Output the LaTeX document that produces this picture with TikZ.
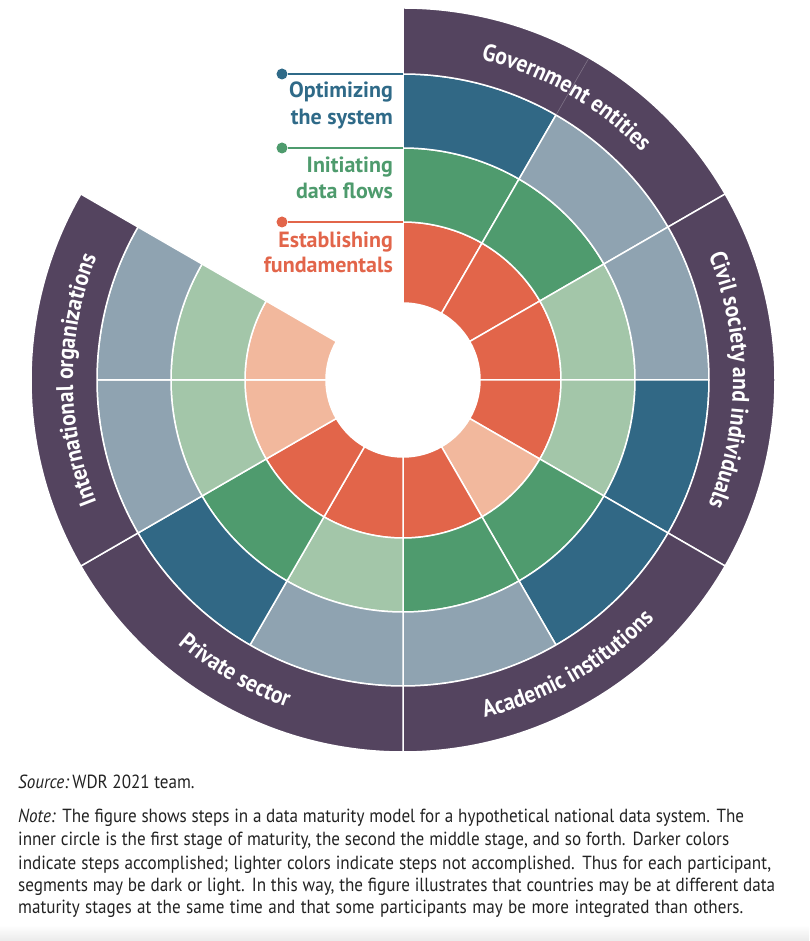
\documentclass[tikz,border=0pt]{standalone}
\usepackage{fontspec}
\setmainfont{PT Sans}
\newfontfamily\condfont{PT Sans}[FakeStretch=0.9]
\usetikzlibrary{decorations.text}
\definecolor{redD}{HTML}{E2654A}
\definecolor{redL}{HTML}{F2B89D}
\definecolor{grnD}{HTML}{4F9B6E}
\definecolor{grnL}{HTML}{A3C6A9}
\definecolor{bluD}{HTML}{316885}
\definecolor{bluL}{HTML}{8FA3B1}
\definecolor{purp}{HTML}{54445F}
\definecolor{legB}{HTML}{2F6A88}
\definecolor{legG}{HTML}{4E9B6D}
\definecolor{legR}{HTML}{E2654A}
\definecolor{notec}{HTML}{222222}
\newcommand\bandfnt{\condfont\bfseries\fontsize{24}{28}\selectfont}
\newcommand\nline[2]{\makebox[#1pt][s]{#2}}
\begin{document}
\begin{tikzpicture}[x=1pt,y=1pt,
  seg/.style={draw=white, line width=1.5pt},
  faint/.style={draw=purp!75!white, line width=0.6pt},
  legdot/.style={circle, inner sep=0pt, minimum size=11pt},
  legline/.style={line width=2pt},
  legtext/.style={font=\bfseries\fontsize{22}{26}\selectfont, anchor=base east, inner sep=0pt},
  notetext/.style={font=\condfont\fontsize{19}{22}\selectfont, anchor=base west, inner sep=0pt, text=notec},
  bandlabel/.style={decorate, decoration={text along path, text align=center, text color=white}}
]
\useasboundingbox (-403,-561) rectangle (406,380);
\shade[top color=white, bottom color=black!8] (-403,-545) rectangle (406,-561);

% rings
\foreach \a/\ca/\cb/\cc in {90/redD/grnD/bluD, 60/redD/grnD/bluL, 30/redD/grnL/bluL, 0/redD/grnL/bluD, -30/redL/grnD/bluD, -60/redD/grnD/bluL, -90/redD/grnL/bluL, -120/redD/grnD/bluD, -150/redL/grnL/bluL, -180/redL/grnL/bluL}{
  \pgfmathsetmacro\b{\a-30}
  \path[fill=\ca, seg] (\a:77pt) arc[start angle=\a, end angle=\b, radius=77pt] -- (\b:158pt) arc[start angle=\b, end angle=\a, radius=158pt] -- cycle;
  \path[fill=\cb, seg] (\a:158pt) arc[start angle=\a, end angle=\b, radius=158pt] -- (\b:232pt) arc[start angle=\b, end angle=\a, radius=232pt] -- cycle;
  \path[fill=\cc, seg] (\a:232pt) arc[start angle=\a, end angle=\b, radius=232pt] -- (\b:306pt) arc[start angle=\b, end angle=\a, radius=306pt] -- cycle;
}
% participant band
\foreach \a in {90,30,-30,-90,-150}{
  \pgfmathsetmacro\b{\a-60}
  \path[fill=purp, seg] (\a:306pt) arc[start angle=\a, end angle=\b, radius=306pt] -- (\b:372pt) arc[start angle=\b, end angle=\a, radius=372pt] -- cycle;
}
\draw[faint] (60:307pt) -- (60:371pt);

% band labels
\path[bandlabel, decoration={text={|\bandfnt|Government entities}}]
  (89:330pt) arc[start angle=89, end angle=31, radius=330pt];
\path[bandlabel, decoration={text={|\bandfnt|Civil society and individuals}}]
  (29:330pt) arc[start angle=29, end angle=-29, radius=330pt];
\path[bandlabel, decoration={text={|\bandfnt|Academic institutions}}]
  (-89:347pt) arc[start angle=-89, end angle=-31, radius=347pt];
\path[bandlabel, decoration={text={|\bandfnt|Private sector}}]
  (-149:347pt) arc[start angle=-149, end angle=-91, radius=347pt];
\path[bandlabel, decoration={text={|\bandfnt|International organizations}}]
  (209:330pt) arc[start angle=209, end angle=151, radius=330pt];

% legend
\node[legdot, fill=legB] (dotO) at (-121,306) {};
\coordinate (endO) at (0,306);
\draw[legline, legB] (dotO) -- (endO);
\node[legtext, text=legB] (optA) at (-10,282) {Optimizing};
\node[legtext, text=legB] (optB) at (-10,255) {the system};

\node[legdot, fill=legG] (dotI) at (-121,232) {};
\coordinate (endI) at (0,232);
\draw[legline, legG] (dotI) -- (endI);
\node[legtext, text=legG] (iniA) at (-10,207) {Initiating};
\node[legtext, text=legG] (iniB) at (-10,181) {data flows};

\node[legdot, fill=legR] (dotE) at (-121,158) {};
\coordinate (endE) at (0,158);
\draw[legline, legR] (dotE) -- (endE);
\node[legtext, text=legR] (estA) at (-10,132) {Establishing};
\node[legtext, text=legR] (estB) at (-10,107) {fundamentals};

% source and note
\node[notetext] (src) at (-385,-408) {\textit{Source:}\,WDR 2021 team.};
\node[notetext] (n1) at (-385,-442) {\nline{726}{\textit{Note:} The figure shows steps in a data maturity model for a hypothetical national data system. The}};
\node[notetext] (n2) at (-385,-465) {\nline{711}{inner circle is the first stage of maturity, the second the middle stage, and so forth. Darker colors}};
\node[notetext] (n3) at (-385,-489) {\nline{753}{indicate steps accomplished; lighter colors indicate steps not accomplished. Thus for each participant,}};
\node[notetext] (n4) at (-385,-511) {\nline{757}{segments may be dark or light. In this way, the figure illustrates that countries may be at different data}};
\node[notetext] (n5) at (-385,-533) {\nline{725}{maturity stages at the same time and that some participants may be more integrated than others.}};
\end{tikzpicture}
\end{document}
